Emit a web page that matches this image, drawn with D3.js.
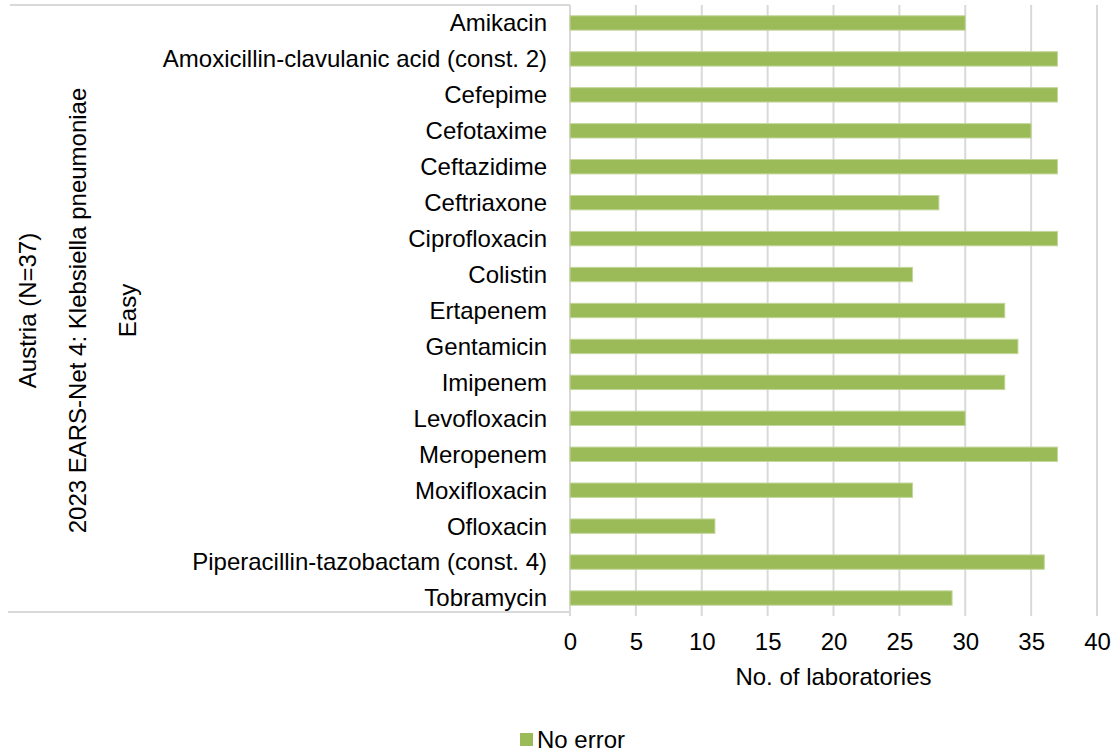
<!DOCTYPE html>
<html>
<head>
<meta charset="utf-8">
<script src="https://cdn.jsdelivr.net/npm/d3@7"></script>
<style>
  html, body { margin: 0; padding: 0; background: #fff; }
  svg { display: block; font-family: Arial, "Liberation Sans", sans-serif; }
</style>
</head>
<body>
<svg id="chart" width="1111" height="754"></svg>
<script>
// Antimicrobials tested and number of laboratories reporting without error
const antimicrobials = [
  "Amikacin",
  "Amoxicillin-clavulanic acid (const. 2)",
  "Cefepime",
  "Cefotaxime",
  "Ceftazidime",
  "Ceftriaxone",
  "Ciprofloxacin",
  "Colistin",
  "Ertapenem",
  "Gentamicin",
  "Imipenem",
  "Levofloxacin",
  "Meropenem",
  "Moxifloxacin",
  "Ofloxacin",
  "Piperacillin-tazobactam (const. 4)",
  "Tobramycin"
];
const noError = [30, 37, 37, 35, 37, 28, 37, 26, 33, 34, 33, 30, 37, 26, 11, 36, 29];
const xTicks = [0, 5, 10, 15, 20, 25, 30, 35, 40];
const groupLabels = ["Austria (N=37)", "2023 EARS-Net 4: Klebsiella pneumoniae", "Easy"];
const axisTitle = "No. of laboratories";
const seriesName = "No error";

const svg = d3.select("#chart");
const plot = { left: 570, right: 1097, top: 5, bottom: 616 };
const barColor = "#9BBB59";
const gridColor = "#D9D9D9";
const fontSize = 24;

const x = d3.scaleLinear().domain([0, 40]).range([plot.left, plot.right]);
const y = d3.scaleBand().domain(antimicrobials).range([plot.top, plot.bottom]).paddingInner(0.6).paddingOuter(0.3);

// vertical gridlines
svg.append("g").selectAll("line").data(xTicks).join("line")
  .attr("x1", d => x(d)).attr("x2", d => x(d))
  .attr("y1", plot.top).attr("y2", plot.bottom)
  .attr("stroke", gridColor).attr("stroke-width", 2);

// category axis frame (multi-level label box)
const frame = svg.append("g").attr("stroke", gridColor).attr("stroke-width", 2).attr("fill", "none");
frame.append("line").attr("x1", 10).attr("x2", plot.left).attr("y1", plot.top).attr("y2", plot.top);
frame.append("line").attr("x1", 8).attr("x2", plot.left).attr("y1", 612).attr("y2", 612);

// bars
svg.append("g").selectAll("rect").data(antimicrobials).join("rect")
  .attr("x", x(0))
  .attr("y", d => y(d))
  .attr("width", (d, i) => x(noError[i]) - x(0))
  .attr("height", y.bandwidth())
  .attr("fill", barColor)
  .attr("stroke", "#C3D69B").attr("stroke-width", 1);

// category labels
svg.append("g").selectAll("text").data(antimicrobials).join("text")
  .attr("x", 547)
  .attr("y", d => y(d) + y.bandwidth() / 2)
  .attr("dy", "0.35em")
  .attr("text-anchor", "end")
  .attr("font-size", fontSize)
  .attr("fill", "#000")
  .text(d => d);

// group level labels (rotated)
const groupX = [28, 78, 128];
const midY = (plot.top + plot.bottom) / 2;
svg.append("g").selectAll("text").data(groupLabels).join("text")
  .attr("transform", (d, i) => `translate(${groupX[i]},${midY}) rotate(-90)`)
  .attr("dy", "0.35em")
  .attr("text-anchor", "middle")
  .attr("font-size", fontSize)
  .attr("fill", "#000")
  .text(d => d);

// x axis tick labels
const xAxis = d3.axisBottom(x).tickValues(xTicks).tickSize(0).tickPadding(0);
const gx = svg.append("g").attr("transform", `translate(0,${plot.bottom + 17})`).call(xAxis);
gx.select(".domain").remove();
gx.selectAll("text").attr("font-size", fontSize).attr("font-family", "Arial, 'Liberation Sans', sans-serif").attr("fill", "#000");

// axis title
svg.append("text")
  .attr("x", (plot.left + plot.right) / 2)
  .attr("y", 685)
  .attr("text-anchor", "middle")
  .attr("font-size", fontSize)
  .attr("fill", "#000")
  .text(axisTitle);

// legend
const legend = svg.append("g").attr("transform", "translate(520,733)");
legend.append("rect").attr("x", 0).attr("y", 0).attr("width", 13).attr("height", 13).attr("fill", barColor);
legend.append("text").attr("x", 17).attr("y", 6.5).attr("dy", "0.35em")
  .attr("font-size", fontSize).attr("fill", "#000").text(seriesName);
</script>
</body>
</html>
